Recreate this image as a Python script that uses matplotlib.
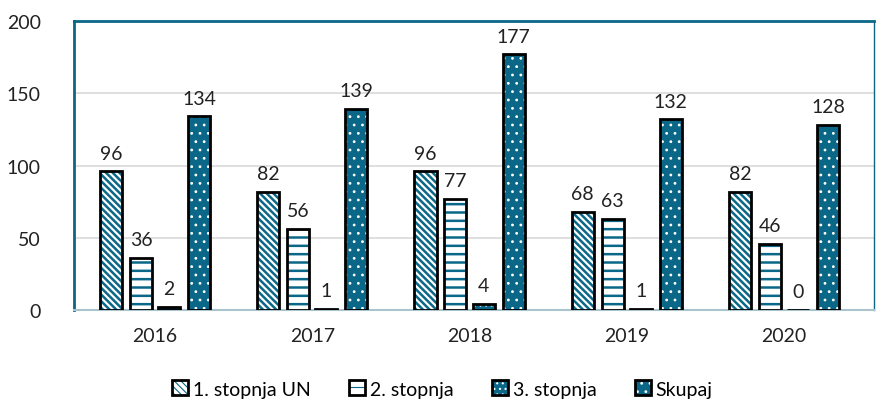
import numpy as np
import matplotlib.pyplot as plt

plt.rcParams['font.family'] = ['Lato', 'DejaVu Sans']

# data
years = ['2016', '2017', '2018', '2019', '2020']
series = ['1. stopnja UN', '2. stopnja', '3. stopnja', 'Skupaj']
stopnja1 = [96, 82, 96, 68, 82]
stopnja2 = [36, 56, 77, 63, 46]
stopnja3 = [2, 1, 4, 1, 0]
skupaj = [134, 139, 177, 132, 128]

teal = '#0a6788'
values = [stopnja1, stopnja2, stopnja3, skupaj]
# (face, hatch, hatch colour, hatch width)
styles = [('white', '\\\\\\\\\\', teal, 1.8),
          ('white', '--', teal, 1.8),
          (teal, '...', 'white', 0.8),
          (teal, '..', 'white', 0.8)]
offsets = [-0.28, -0.09, 0.09, 0.28]
width = 0.14

fig = plt.figure(figsize=(8.76, 4.14), dpi=100)
ax = fig.add_axes([74 / 876, 1 - 311 / 414, 800 / 876, 289 / 414])

x = np.arange(len(years))
handles = []
for vals, (fc, hatch, hc, hlw), off in zip(values, styles, offsets):
    plt.rcParams['hatch.linewidth'] = hlw
    b1 = ax.bar(x + off, vals, width, color=fc, hatch=hatch, edgecolor=hc,
                linewidth=0, zorder=3)
    b2 = ax.bar(x + off, vals, width, color='none', edgecolor='black',
                linewidth=2, zorder=4)
    handles.append((b1, b2))
    for xi, v in zip(x + off, vals):
        ax.annotate(str(v), (xi, v), xytext=(0, 7), textcoords='offset points',
                    ha='center', va='bottom', fontsize=14, color='#222222')

ax.set_xlim(-0.516, 4.573)
ax.set_ylim(0, 200)
ax.set_yticks([0, 50, 100, 150, 200])
ax.set_xticks(x)
ax.set_xticklabels(years)
ax.tick_params(length=0, labelsize=14, colors='#222222')
ax.tick_params(axis='x', pad=12)
ax.tick_params(axis='y', pad=24)
ax.grid(axis='y', color='#d9d9d9', linewidth=1.2, zorder=0)
ax.set_axisbelow(True)

ax.spines['top'].set_color(teal)
ax.spines['top'].set_linewidth(2)
ax.spines['left'].set_color(teal)
ax.spines['left'].set_linewidth(2)
ax.spines['right'].set_color(teal)
ax.spines['right'].set_linewidth(1)
ax.spines['bottom'].set_color('#a9c3cf')
ax.spines['bottom'].set_linewidth(1.5)

fig.legend([tuple(h) for h in handles], series, loc='center',
           bbox_to_anchor=(0.505, 0.058), ncol=4, frameon=False, fontsize=14,
           handlelength=0.8, handleheight=0.8, handletextpad=0.25,
           columnspacing=2.0)

fig.savefig('out.png', dpi=100)
